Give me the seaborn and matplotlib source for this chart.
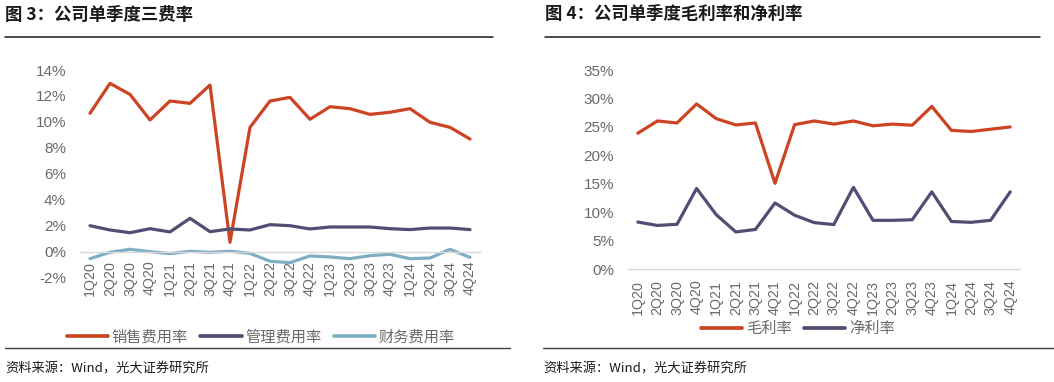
import numpy as np
import pandas as pd
import matplotlib
matplotlib.use("Agg")
import matplotlib.pyplot as plt
from matplotlib.lines import Line2D
import seaborn as sns

### Dados
trimestres = ["1Q20", "2Q20", "3Q20", "4Q20", "1Q21", "2Q21", "3Q21", "4Q21",
              "1Q22", "2Q22", "3Q22", "4Q22", "1Q23", "2Q23", "3Q23", "4Q23",
              "1Q24", "2Q24", "3Q24", "4Q24"]

venda = [10.66, 12.97, 12.12, 10.15, 11.61, 11.43, 12.84, 0.72,
         9.58, 11.61, 11.89, 10.20, 11.17, 11.02, 10.58, 10.74,
         11.02, 9.97, 9.58, 8.68]
gestao = [2.00, 1.67, 1.46, 1.77, 1.52, 2.57, 1.54, 1.75,
          1.67, 2.08, 2.00, 1.75, 1.90, 1.90, 1.90, 1.77,
          1.70, 1.82, 1.82, 1.70]
financeiro = [-0.54, -0.05, 0.18, 0.00, -0.15, 0.03, -0.05, 0.03,
              -0.13, -0.74, -0.85, -0.33, -0.41, -0.54, -0.31, -0.20,
              -0.54, -0.49, 0.18, -0.44]

margem_bruta = [23.9, 26.05, 25.7, 29.04, 26.46, 25.35, 25.7, 15.1,
                25.4, 26.05, 25.5, 26.05, 25.2, 25.5, 25.3, 28.6,
                24.4, 24.2, 24.6, 25.0]
margem_liquida = [8.3, 7.7, 7.9, 14.2, 9.6, 6.56, 7.0, 11.65,
                  9.5, 8.2, 7.85, 14.4, 8.6, 8.6, 8.7, 13.6,
                  8.4, 8.25, 8.6, 13.6]

series_esq = ["销售费用率", "管理费用率", "财务费用率"]
series_dir = ["毛利率", "净利率"]
cores_esq = ["#CC4423", "#524D72", "#7EAEC4"]
cores_dir = ["#CC4423", "#524D72"]

### Estilo
sns.set_theme(style="white")
plt.rcParams["font.family"] = ["Liberation Sans", "Noto Sans CJK SC", "DejaVu Sans"]
cinza_txt = "#6A6A6A"
cinza_eixo = "#D9D9D9"

W, H = 1054, 382
fig = plt.figure(figsize=(W / 100, H / 100), dpi=100)

def caixa(x0, y_top, x1, y_bot):
    return [x0 / W, 1 - y_bot / H, (x1 - x0) / W, (y_bot - y_top) / H]

def desenha(ax, valores, nomes, cores, ylim, yticks, ypad, xpad):
    df = pd.DataFrame({"trimestre": trimestres * len(nomes),
                       "pos": list(range(len(trimestres))) * len(nomes),
                       "serie": np.repeat(nomes, len(trimestres)),
                       "valor": np.concatenate(valores)})
    sns.lineplot(data=df, x="pos", y="valor", hue="serie", palette=cores,
                 hue_order=nomes, linewidth=2.3, ax=ax, legend=False, sort=False)
    for lado in ["top", "right", "left"]:
        ax.spines[lado].set_visible(False)
    # eixo x passando pelo zero (set_position recria os ticks, por isso vem antes)
    ax.spines["bottom"].set_position(("data", 0))
    ax.spines["bottom"].set_color(cinza_eixo)
    ax.spines["bottom"].set_linewidth(1.0)
    ax.set_xlim(-0.5, len(trimestres) - 0.5)
    ax.set_ylim(*ylim)
    ax.set_yticks(yticks)
    ax.set_yticklabels([f"{v:.0f}%" for v in yticks])
    ax.set_xticks(range(len(trimestres)))
    ax.set_xticklabels(trimestres)
    ax.set_xticks(np.arange(-0.5, len(trimestres)), minor=True)
    ax.set_xlabel("")
    ax.set_ylabel("")
    ax.tick_params(axis="x", which="major", length=0, pad=xpad, labelsize=10.3,
                   labelcolor=cinza_txt, labelrotation=90)
    ax.tick_params(axis="x", which="minor", length=4, direction="in", color=cinza_eixo, width=1.0)
    ax.tick_params(axis="y", length=0, pad=ypad, labelsize=11, labelcolor=cinza_txt)
    ax.grid(False)
    ax.patch.set_alpha(0)

ax1 = fig.add_axes(caixa(80, 70, 480, 277.6))
desenha(ax1, [venda, gestao, financeiro], series_esq, cores_esq, (-2, 14),
        np.arange(-2, 15, 2), 10, 6.5)

ax2 = fig.add_axes(caixa(628, 70, 1020, 269.3))
desenha(ax2, [margem_bruta, margem_liquida], series_dir, cores_dir, (0, 35),
        np.arange(0, 36, 5), 10, 7.5)

### Legendas
def legenda(nomes, cores, cx, cy):
    alcas = [Line2D([], [], color=c, lw=2.7) for c in cores]
    leg = fig.legend(alcas, nomes, loc="center", bbox_to_anchor=(cx / W, 1 - cy / H),
                     ncol=len(nomes), frameon=False, fontsize=11, handlelength=2.7,
                     handletextpad=0.25, columnspacing=0.8, borderaxespad=0, borderpad=0)
    for t in leg.get_texts():
        t.set_color(cinza_txt)

legenda(series_esq, cores_esq, 261, 337)
legenda(series_dir, cores_dir, 798, 329)

### Títulos, linhas e fonte
fonte_titulo = ["Noto Sans CJK SC", "DejaVu Sans"]
fig.text(5 / W, 1 - 15 / H, "图 3：公司单季度三费率", fontsize=12.5, fontweight="bold",
         family=fonte_titulo, va="center", ha="left", color="#1A1A1A")
fig.text(545 / W, 1 - 15 / H, "图 4：公司单季度毛利率和净利率", fontsize=12.5, fontweight="bold",
         family=fonte_titulo, va="center", ha="left", color="#1A1A1A")
fig.add_artist(Line2D([5 / W, 493 / W], [1 - 37.3 / H] * 2, color="#1A1A1A", lw=1.1))
fig.add_artist(Line2D([545 / W, 1040 / W], [1 - 37.3 / H] * 2, color="#1A1A1A", lw=1.1))
fig.add_artist(Line2D([5 / W, 510 / W], [1 - 348.3 / H] * 2, color="#404040", lw=1.0))
fig.add_artist(Line2D([543 / W, 1054 / W], [1 - 348.3 / H] * 2, color="#404040", lw=1.0))
fig.text(5 / W, 1 - 368.5 / H, "资料来源：Wind，光大证券研究所", fontsize=9.5,
         family=fonte_titulo, va="center", ha="left", color="#1A1A1A")
fig.text(543 / W, 1 - 368.5 / H, "资料来源：Wind，光大证券研究所", fontsize=9.5,
         family=fonte_titulo, va="center", ha="left", color="#1A1A1A")

fig.savefig("out.png", dpi=100)
